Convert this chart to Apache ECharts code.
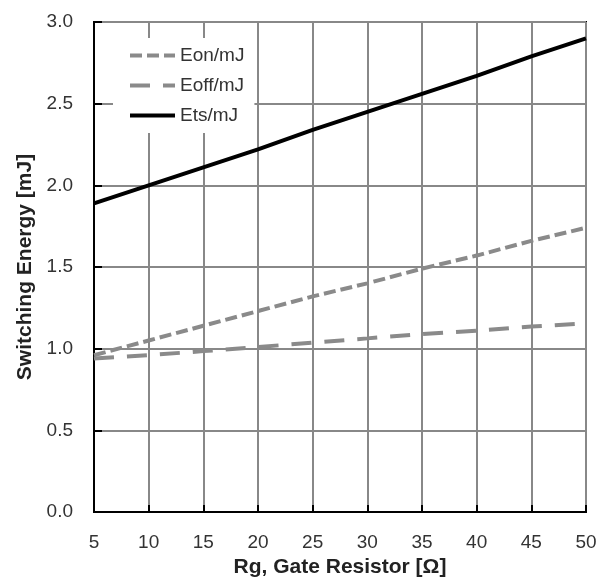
<!DOCTYPE html>
<html>
<head>
<meta charset="utf-8">
<script src="https://cdn.jsdelivr.net/npm/echarts@6/dist/echarts.min.js"></script>
<style>
  html, body { margin: 0; padding: 0; background: #fff; }
  #chart { width: 611px; height: 584px; }
</style>
</head>
<body>
<div id="chart"></div>
<script>
// Gate resistor values [Ohm]
const rgValues = [5, 10, 15, 20, 25, 30, 35, 40, 45, 50];
// switching energies [mJ]
const eonValues = [0.96, 1.05, 1.14, 1.23, 1.32, 1.40, 1.49, 1.57, 1.66, 1.74];
const eoffValues = [0.94, 0.96, 0.985, 1.01, 1.037, 1.063, 1.09, 1.11, 1.135, 1.155];
const etsValues = [1.89, 2.00, 2.11, 2.22, 2.34, 2.45, 2.56, 2.67, 2.79, 2.90];

const seriesNames = ['Eon/mJ', 'Eoff/mJ', 'Ets/mJ'];
const FONT = 'Liberation Sans, Arial, sans-serif';

function pairs(ys) {
    return rgValues.map((x, i) => [x, ys[i]]);
}

const chartDom = document.getElementById('chart');
const myChart = echarts.init(chartDom);

const option = {
    animation: false,
    textStyle: { fontFamily: FONT },
    grid: {
        left: 94, right: 25, top: 22, bottom: 72,
        show: true, borderColor: '#000', borderWidth: 2, backgroundColor: 'transparent'
    },
    legend: {
        orient: 'vertical',
        left: 113, top: 38,
        padding: [8, 10, 8, 15],
        backgroundColor: '#fff',
        itemWidth: 45, itemHeight: 14, itemGap: 11,
        data: seriesNames,
        // hide the marker dot, keep the line sample
        itemStyle: { opacity: 0 },
        lineStyle: { width: 4 },
        textStyle: { color: '#333', fontSize: 19, fontFamily: FONT }
    },
    xAxis: {
        type: 'value', min: 5, max: 50, interval: 5,
        name: 'Rg, Gate Resistor [Ω]', nameLocation: 'middle', nameGap: 44,
        nameTextStyle: { color: '#222', fontSize: 21, fontWeight: 'bold', fontFamily: FONT },
        axisLine: { show: true, lineStyle: { color: '#000', width: 2 } },
        axisTick: { show: true, inside: true, length: 7, lineStyle: { color: '#000', width: 2 } },
        axisLabel: { color: '#333', fontSize: 19, margin: 21 },
        splitLine: { show: true, lineStyle: { color: '#888', width: 2 } }
    },
    yAxis: {
        type: 'value', min: 0, max: 3, interval: 0.5,
        name: 'Switching Energy [mJ]', nameLocation: 'middle', nameGap: 58,
        nameTextStyle: { color: '#222', fontSize: 21, fontWeight: 'bold', fontFamily: FONT },
        axisLine: { show: true, lineStyle: { color: '#000', width: 2 } },
        axisTick: { show: true, inside: true, length: 8, lineStyle: { color: '#000', width: 2 } },
        axisLabel: { color: '#333', fontSize: 19, margin: 21, formatter: v => v.toFixed(1) },
        splitLine: { show: true, lineStyle: { color: '#888', width: 2 } }
    },
    series: [
        {
            name: 'Eon/mJ', type: 'line', data: pairs(eonValues),
            symbol: 'none', z: 3,
            lineStyle: { color: '#8a8a8a', width: 4, type: [12, 5] },
            itemStyle: { color: '#8a8a8a' }
        },
        {
            name: 'Eoff/mJ', type: 'line', data: pairs(eoffValues),
            symbol: 'none', z: 3,
            lineStyle: { color: '#8a8a8a', width: 4, type: [20, 13] },
            itemStyle: { color: '#8a8a8a' }
        },
        {
            name: 'Ets/mJ', type: 'line', data: pairs(etsValues),
            symbol: 'none', z: 4,
            lineStyle: { color: '#000', width: 4, type: 'solid' },
            itemStyle: { color: '#000' }
        }
    ]
};

myChart.setOption(option);
</script>
</body>
</html>
